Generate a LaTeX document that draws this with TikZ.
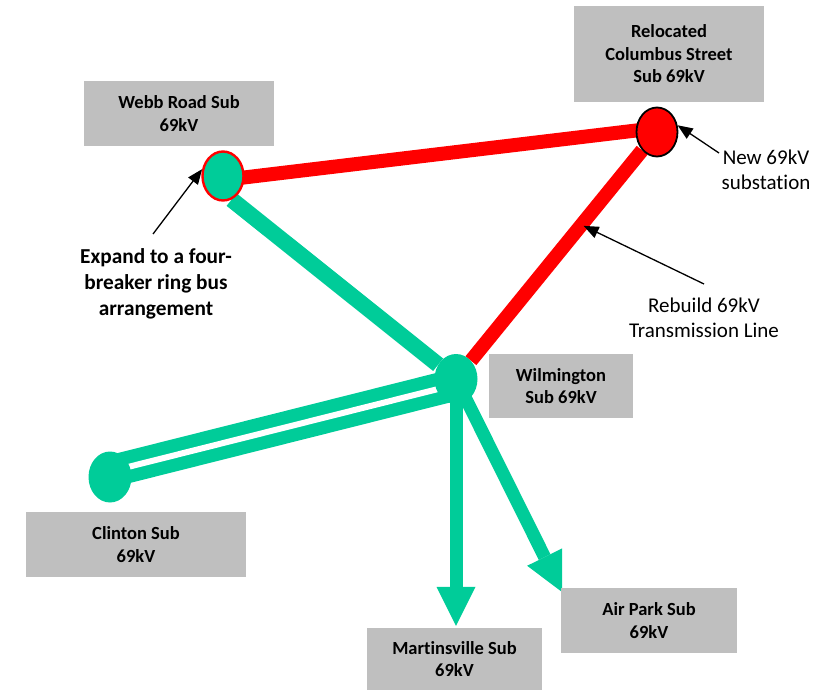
\documentclass[tikz,border=0pt]{standalone}
\usepackage{fontspec}
\setmainfont{Carlito}[Ligatures=NoCommon]
\usetikzlibrary{shapes.geometric,arrows.meta,calc,backgrounds}
\definecolor{teal2}{HTML}{00CC99}
\definecolor{boxgray}{HTML}{BFBFBF}
\definecolor{pred}{HTML}{FF0000}
\begin{document}
\begin{tikzpicture}[x=1pt,y=-1pt,
  subbox/.style={fill=boxgray, inner sep=0pt, align=center,
    font=\fontsize{18.5}{22.5}\selectfont\bfseries},
  hub/.style={ellipse, minimum width=41pt, minimum height=49pt, inner sep=0pt, fill=teal2},
  redline/.style={pred, line width=14pt},
  tealline/.style={teal2, line width=16pt},
  tealarrow/.style={teal2, line width=13pt, -{Triangle[width=39pt,length=39pt,line width=0pt]}},
  thinarrow/.style={black, line width=1.3pt, -{Triangle[width=12pt,length=15pt]}},
  annob/.style={align=center, inner sep=0pt, font=\fontsize{21.3}{26}\selectfont\bfseries},
  annor/.style={align=center, inner sep=0pt, font=\fontsize{21}{24.5}\selectfont}]
\useasboundingbox (0,0) rectangle (838,690);

% boxes
\node[subbox, minimum width=190pt, minimum height=65pt] (webbbox) at (179,113.5) {Webb Road Sub\\69kV};
\node[subbox, minimum width=190pt, minimum height=96pt] (colbox) at (669,54) {Relocated\\Columbus Street\\Sub 69kV};
\node[subbox, minimum width=144pt, minimum height=64pt] (wilmbox) at (561,386) {Wilmington\\Sub 69kV};
\node[subbox, minimum width=220pt, minimum height=65pt] (clinbox) at (136,544.5) {Clinton Sub\\69kV};
\node[subbox, minimum width=175pt, minimum height=62pt] (mart) at (454.5,659) {Martinsville Sub\\69kV};
\node[subbox, minimum width=176pt, minimum height=65pt] (air) at (649,620.5) {Air Park Sub\\69kV};

% hubs
\node[hub, draw=pred, line width=2.4pt] (webb) at (223,176) {};
\node[hub, fill=pred, draw=black, line width=1.8pt] (col) at (657,132) {};
\node[hub, minimum width=43pt, minimum height=50pt] (wilm) at (456,379) {};
\node[hub, minimum width=43pt, minimum height=51pt] (clin) at (110,477) {};

% free ends
\coordinate (atip) at (562,592);
\coordinate (rbtip) at ($(wilm)!0.62!(col)$);
\coordinate (e1) at (153,234);
\coordinate (n1) at (719,153);
\coordinate (r1) at (704,284);

\begin{pgfonlayer}{background}
\draw[redline] ([yshift=-4pt]webb.center) -- ([yshift=4pt]col.center);
\draw[redline] (col) -- (wilm);
\draw[tealline] (webb.290) -- (wilm);
\draw[teal2, line width=32pt] ([yshift=5.5pt]clin.center) -- ([yshift=-5.5pt]wilm.center);
\draw[white, line width=6pt] ([yshift=5.5pt]clin.center) -- ([yshift=-5.5pt]wilm.center);
\draw[tealarrow, shorten >=2pt] (wilm.center) -- (wilm.center |- mart.north);
\draw[tealarrow] (wilm.center) -- (atip);
\end{pgfonlayer}

% annotations
\node[annob] (expand) at (156,284) {Expand to a four-\\breaker ring bus\\arrangement};
\node[annor] (newsub) at (766,170) {New 69kV\\substation};
\node[annor] (rebuild) at (704,318) {Rebuild 69kV\\Transmission Line};

\draw[thinarrow] (e1) -- (webb.162);
\draw[thinarrow] (n1) -- (col.18);
\draw[thinarrow] (r1) -- ([xshift=3pt]rbtip);
\end{tikzpicture}
\end{document}
